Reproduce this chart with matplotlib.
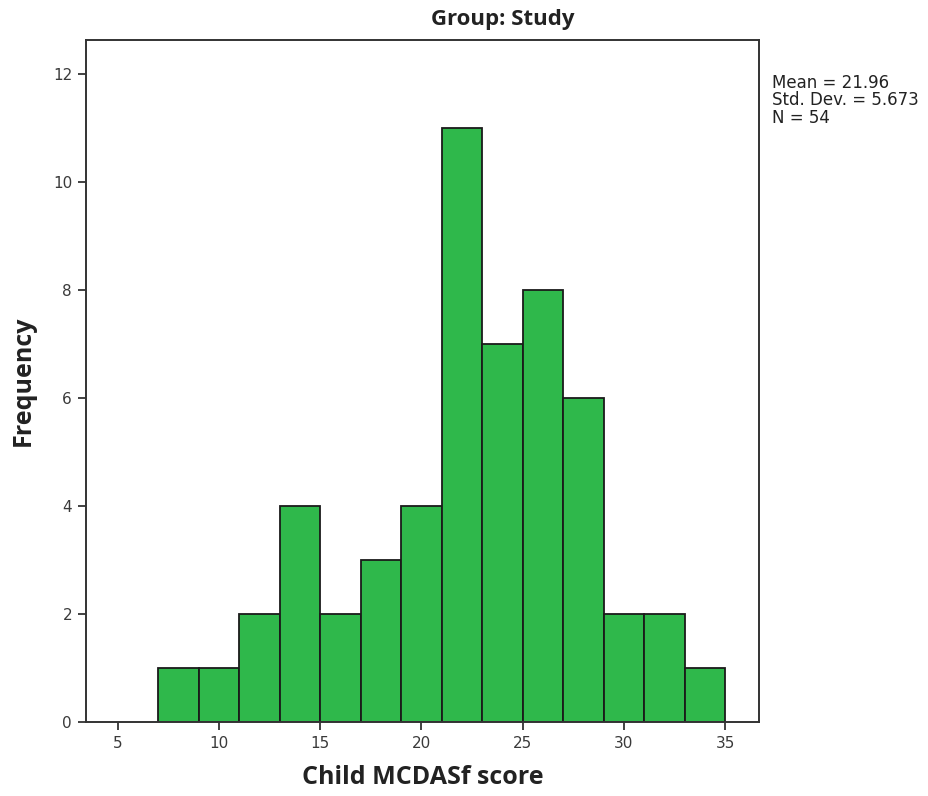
import matplotlib
matplotlib.use("Agg")
import matplotlib.pyplot as plt
import numpy as np

# Histogram of Child MCDASf scores (bin width 2)
bin_edges = [7, 9, 11, 13, 15, 17, 19, 21, 23, 25, 27, 29, 31, 33, 35]
counts = [1, 1, 2, 4, 2, 3, 4, 11, 7, 8, 6, 2, 2, 1]
x_ticks = [5, 10, 15, 20, 25, 30, 35]
y_ticks = [0, 2, 4, 6, 8, 10, 12]
stats_lines = ["Mean = 21.96", "Std. Dev. = 5.673", "N = 54"]

plt.rcParams['font.family'] = ['DejaVu Sans']
bold_font = ['Open Sans', 'DejaVu Sans']

fig = plt.figure(figsize=(9.29, 7.96), dpi=100)
ax = fig.add_axes([86 / 929, 1 - 722 / 796, (759 - 86) / 929, (722 - 40) / 796])

lefts = np.array(bin_edges[:-1])
widths = np.diff(bin_edges)
ax.bar(lefts, counts, width=widths, align='edge', color='#2fb84b',
       edgecolor='#1a1a1a', linewidth=1.3)

ax.set_xlim(3.42, 36.68)
ax.set_ylim(0, 12.63)
ax.set_xticks(x_ticks)
ax.set_yticks(y_ticks)
ax.tick_params(direction='out', length=6, width=1.3, color='#333333',
               labelsize=11, labelcolor='#3a3a3a', pad=4)
for s in ax.spines.values():
    s.set_linewidth(1.4)
    s.set_color('#333333')

ax.set_xlabel('Child MCDASf score', fontsize=18, fontweight='bold',
              family=bold_font, color='#222222', labelpad=10)
ax.set_ylabel('Frequency', fontsize=18, fontweight='bold',
              family=bold_font, color='#222222', labelpad=12)
fig.text(503 / 929, 1 - 20 / 796, 'Group: Study', ha='center', va='center',
         fontsize=16, fontweight='bold', family=bold_font, color='#222222')

fig.text(772 / 929, 1 - 74 / 796, "\n".join(stats_lines), ha='left', va='top',
         fontsize=12, color='#222222', linespacing=0.95)

fig.savefig('out.png', dpi=100)
